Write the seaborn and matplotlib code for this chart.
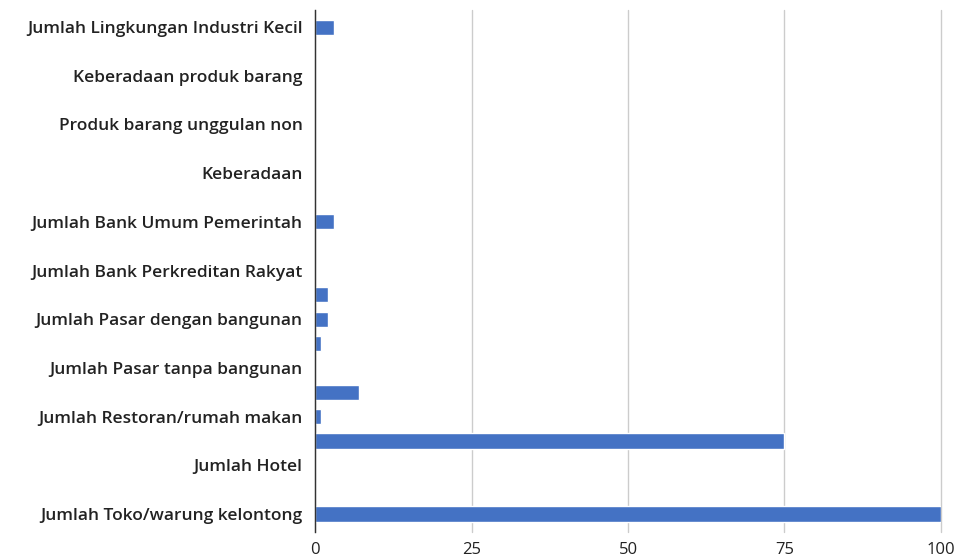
import matplotlib
matplotlib.use("Agg")
import matplotlib.pyplot as plt
import seaborn as sns
import pandas as pd

# categories top to bottom; every second one has no visible label
labels = [
    "Jumlah Lingkungan Industri Kecil", "",
    "Keberadaan produk barang", "",
    "Produk barang unggulan non", "",
    "Keberadaan", "",
    "Jumlah Bank Umum Pemerintah", "",
    "Jumlah Bank Perkreditan Rakyat", "",
    "Jumlah Pasar dengan bangunan", "",
    "Jumlah Pasar tanpa bangunan", "",
    "Jumlah Restoran/rumah makan", "",
    "Jumlah Hotel", "",
    "Jumlah Toko/warung kelontong",
]
values = [3, 0, 0, 0, 0, 0, 0, 0, 3, 0, 0, 2, 2, 1, 0, 7, 1, 75, 0, 0, 100]
x_ticks = [0, 25, 50, 75, 100]

df = pd.DataFrame({"key": [f"c{i}" for i in range(len(labels))], "value": values})

sns.set_style("white")
plt.rcParams["font.family"] = ["Open Sans", "DejaVu Sans"]

fig = plt.figure(figsize=(9.59, 5.6), dpi=100)
ax = fig.add_axes([0.3285, 0.05, 0.6527, 0.932])

sns.barplot(data=df, x="value", y="key", orient="h", color="#4472C4",
            width=0.62, saturation=1, ax=ax, zorder=3)

ax.set_xlim(0, 100)
ax.set_ylim(20.74, -0.7)
ax.set_xticks(x_ticks)
ax.set_xticklabels([str(t) for t in x_ticks], fontsize=12, color="#222222")
ax.set_yticks(range(len(labels)))
ax.set_yticklabels(labels, fontsize=12.5, color="#222222", fontweight="semibold")
ax.tick_params(axis="x", length=0, pad=7)
ax.tick_params(axis="y", length=0, pad=9)
ax.grid(axis="x", color="#cccccc", linewidth=1, zorder=0)
for gl in ax.get_xgridlines():
    gl.set_clip_on(False)
ax.set_xlabel("")
ax.set_ylabel("")

for s in ["top", "right", "bottom"]:
    ax.spines[s].set_visible(False)
ax.spines["left"].set_color("#333333")
ax.spines["left"].set_linewidth(1)
ax.spines["left"].set_zorder(4)

fig.savefig("out.png", dpi=100)
